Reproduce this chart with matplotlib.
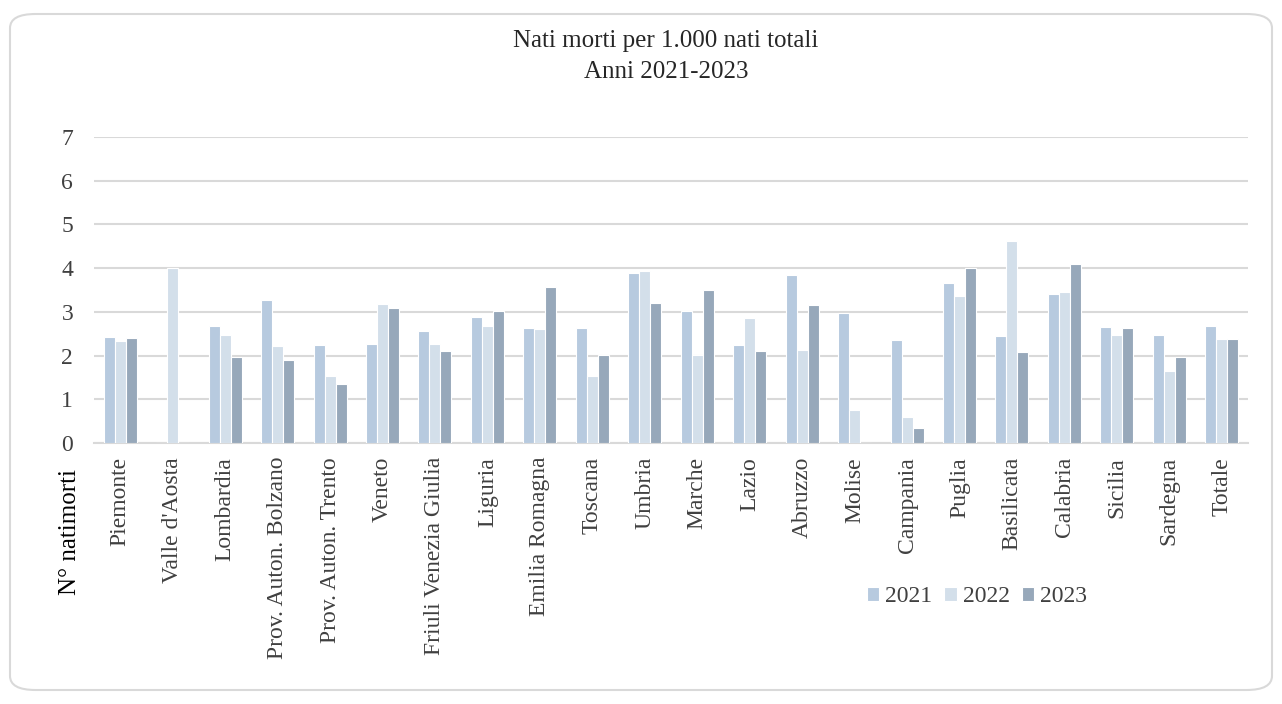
import matplotlib.pyplot as plt
import numpy as np
from matplotlib.patches import FancyBboxPatch

regioni = ["Piemonte", "Valle d'Aosta", "Lombardia", "Prov. Auton. Bolzano",
           "Prov. Auton. Trento", "Veneto", "Friuli Venezia Giulia", "Liguria",
           "Emilia Romagna", "Toscana", "Umbria", "Marche", "Lazio", "Abruzzo",
           "Molise", "Campania", "Puglia", "Basilicata", "Calabria", "Sicilia",
           "Sardegna", "Totale"]

anni = ["2021", "2022", "2023"]

val_2021 = [2.43, 0.0, 2.67, 3.27, 2.24, 2.27, 2.56, 2.89, 2.63, 2.63, 3.90,
            3.03, 2.24, 3.85, 2.97, 2.35, 3.66, 2.44, 3.40, 2.65, 2.48, 2.67]
val_2022 = [2.34, 4.01, 2.48, 2.22, 1.53, 3.18, 2.27, 2.67, 2.60, 1.53, 3.93,
            2.02, 2.86, 2.12, 0.75, 0.59, 3.37, 4.61, 3.45, 2.46, 1.64, 2.38]
val_2023 = [2.41, 0.0, 1.96, 1.89, 1.36, 3.08, 2.10, 3.01, 3.56, 2.02, 3.20,
            3.51, 2.10, 3.15, 0.0, 0.35, 4.00, 2.08, 4.09, 2.63, 1.96, 2.38]

y_ticks = [0, 1, 2, 3, 4, 5, 6, 7]

colori = ["#b7cadf", "#d3dfea", "#97a8ba"]

plt.rcParams['font.family'] = ['Liberation Serif', 'DejaVu Serif']

fig = plt.figure(figsize=(12.82, 7.04), dpi=100)

# rounded frame around the whole chart
cornice = FancyBboxPatch((10 / 1282, 14 / 704), 1262 / 1282, 676 / 704,
                         boxstyle="round,pad=0,rounding_size=0.02",
                         transform=fig.transFigure, facecolor="white",
                         edgecolor="#d9d9d9", linewidth=1.5, zorder=-1)
fig.add_artist(cornice)

ax = fig.add_axes([94 / 1282, 1 - 443 / 704, (1248 - 94) / 1282, (443 - 137) / 704])
ax.set_zorder(1)
ax.set_facecolor("none")

x = np.arange(len(regioni))
w = 0.21
for i, (serie, col, lab) in enumerate(zip([val_2021, val_2022, val_2023], colori, anni)):
    ax.bar(x + (i - 1) * w, serie, width=w, color=col, edgecolor="white",
           linewidth=0.8, label=lab, zorder=3)

ax.set_xlim(-0.5, len(regioni) - 0.5)
ax.set_ylim(0, 7)
ax.set_yticks(y_ticks)
ax.yaxis.grid(True, color="#d9d9d9", linewidth=1.5, zorder=0)
ax.set_axisbelow(True)
for s in ["top", "right", "left"]:
    ax.spines[s].set_visible(False)
ax.spines["bottom"].set_color("#d9d9d9")
ax.spines["bottom"].set_linewidth(1.5)
ax.tick_params(axis="y", length=0, pad=15, labelsize=17, labelcolor="#404040")
ax.tick_params(axis="x", length=0, pad=10, labelsize=17, labelcolor="#404040")
ax.set_xticks(x)
ax.set_xticklabels(regioni, rotation=90, va="top", ha="center")

fig.text(666 / 1282, 1 - 41 / 704, "Nati morti per 1.000 nati totali",
         ha="center", va="center", fontsize=18, color="#262626")
fig.text(666 / 1282, 1 - 72 / 704, "Anni 2021-2023",
         ha="center", va="center", fontsize=18, color="#262626")

fig.text(70 / 1282, 1 - 532 / 704, "N° natimorti", rotation=90,
         ha="center", va="center", fontsize=18, color="black")

ax.legend(loc="center", bbox_to_anchor=(977 / 1282, 1 - 597 / 704),
          bbox_transform=fig.transFigure, ncol=3, frameon=False,
          fontsize=17, handlelength=0.54, handleheight=0.54,
          handletextpad=0.25, columnspacing=0.5, labelcolor="#404040")

fig.savefig("out.png", dpi=100)
